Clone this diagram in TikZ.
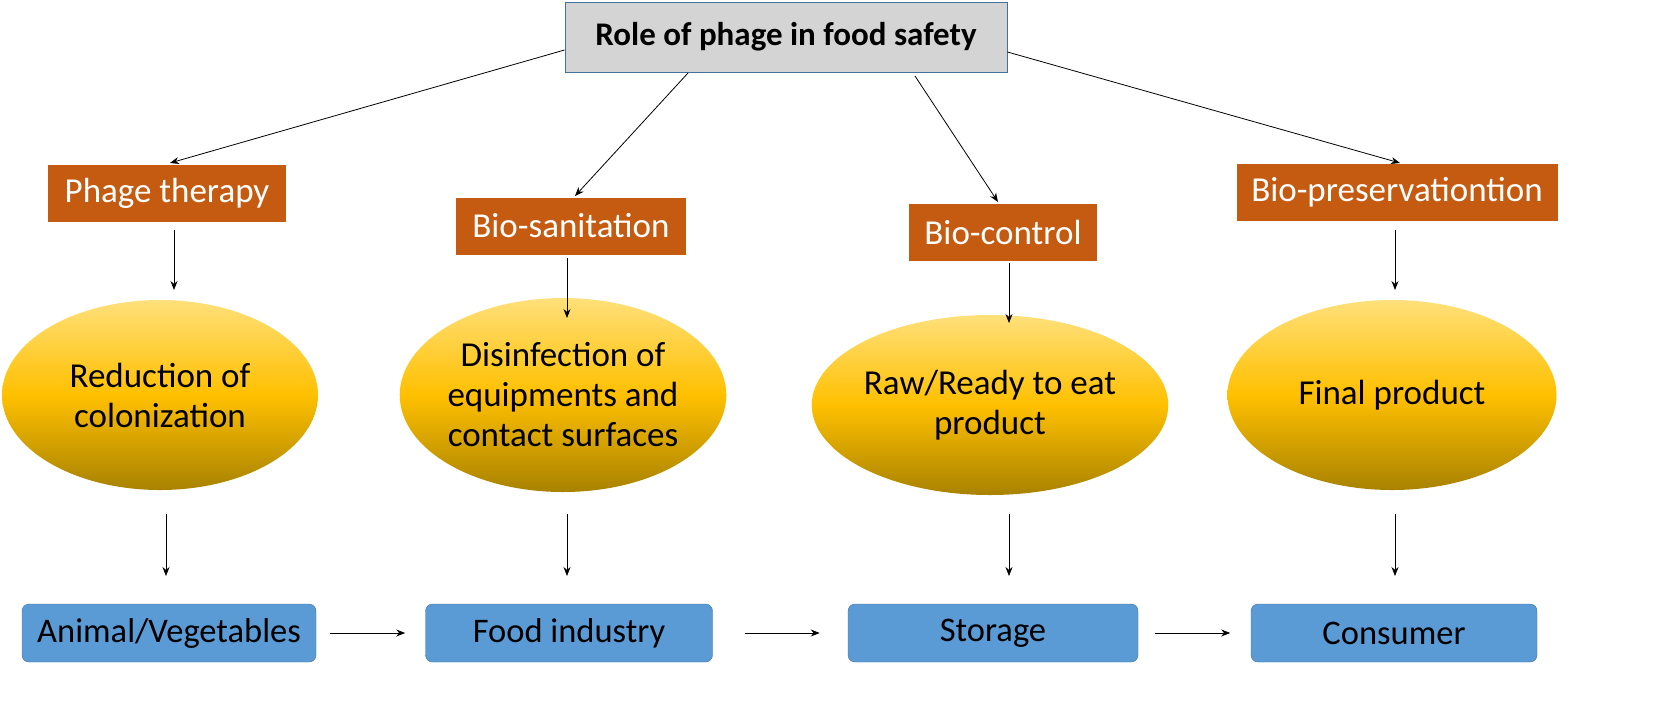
\documentclass[tikz,border=0pt]{standalone}
\usepackage{fontspec}
\setmainfont{Carlito}
\usetikzlibrary{shapes.geometric,arrows.meta}
\definecolor{orng}{HTML}{C55A11}
\definecolor{blu}{HTML}{5B9BD5}
\definecolor{bluedge}{HTML}{41719C}
\definecolor{ytop}{HTML}{FFE07A}
\definecolor{ymid}{HTML}{FFC000}
\definecolor{ybot}{HTML}{A88200}
\begin{document}
\begin{tikzpicture}[x=1pt,y=-1pt,
  ob/.style={draw=none,fill=orng,text=white,font=\fontsize{35}{40}\selectfont,inner sep=0pt,minimum height=57pt},
  el/.style={ellipse,draw=none,top color=ytop,bottom color=ybot,middle color=ymid,align=center,font=\fontsize{35}{40}\selectfont,inner sep=0pt},
  bb/.style={draw=bluedge,fill=blu,rounded corners=7pt,font=\fontsize{34.5}{40}\selectfont,inner sep=0pt,minimum height=58pt},
  ar/.style={-{Stealth[length=9pt,width=7pt]},line width=0.8pt}]
\useasboundingbox (0,0) rectangle (1662,716);
\node[draw=bluedge,fill=black!17,font=\bfseries\fontsize{33}{38}\selectfont,minimum width=442pt,minimum height=70pt,inner sep=0pt,line width=1pt] (t) at (786,37) {Role of phage in food safety};
\node[ob,minimum width=238pt] (o1) at (167,193) {Phage therapy};
\node[ob,minimum width=230pt] (o2) at (571,226) {Bio-sanitation};
\node[ob,minimum width=188pt] (o3) at (1003,232) {Bio-control};
\node[ob,minimum width=321pt] (o4) at (1397,192) {Bio-preservationtion};
\node[el,minimum width=316pt,minimum height=190pt] (e1) at (160,395) {Reduction of\\colonization};
\node[el,minimum width=316pt,minimum height=194pt] (e2) at (563,395) {Disinfection of\\equipments and\\contact surfaces};
\node[el,minimum width=290pt,minimum height=180pt] (e3) at (990,405) {Raw/Ready to eat\\product};
\node[el,minimum width=329pt,minimum height=190pt] (e4) at (1392,395) {Final product};
\node[bb,minimum width=294pt] (b1) at (169,633) {Animal/Vegetables};
\node[bb,minimum width=287pt] (b2) at (569,633) {Food industry};
\node[bb,minimum width=290pt] (b3) at (993,633) {Storage};
\node[bb,minimum width=286pt] (b4) at (1394,633) {Consumer};
\draw[ar] (t.west|-0,50) -- (170,163);
\coordinate (t2) at (688,73); \coordinate (t3) at (915,76);
\draw[ar] (t2) -- (575,196);
\draw[ar] (t3) -- (998,202);
\draw[ar] (t.east|-0,52) -- (1400,163);
\foreach \x/\a/\b in {174/230/290, 567/258/318, 1009/263/323, 1395/230/290}{
  \draw[ar] (\x,\a) -- (\x,\b);
}
\foreach \x in {166,567,1009,1395}{ \draw[ar] (\x,514) -- (\x,576); }
\draw[ar] (b1.east) ++(14,0) -- ++(75,0);
\draw[ar] (b2.east) ++(32,0) -- ++(75,0);
\draw[ar] (b3.east) ++(17,0) -- ++(75,0);
\end{tikzpicture}
\end{document}
